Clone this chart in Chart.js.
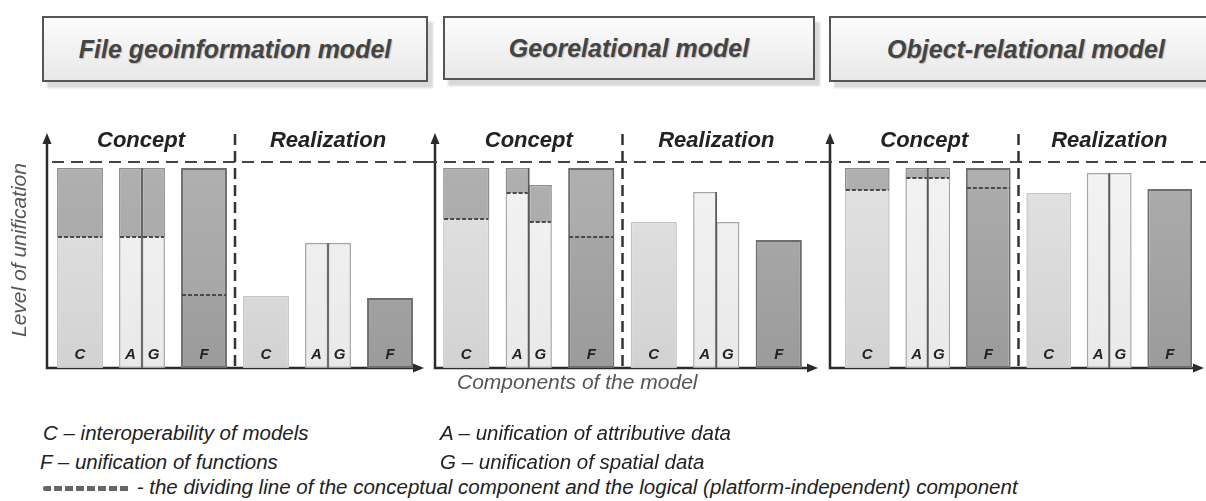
<!DOCTYPE html>
<html>
<head>
<meta charset="utf-8">
<script src="https://cdn.jsdelivr.net/npm/chart.js@4.4.1/dist/chart.umd.min.js"></script>
<style>
  body { margin: 0; background: #fff; }
  #wrap { position: relative; width: 1206px; height: 501px; overflow: hidden; font-family: "Liberation Sans", Arial, sans-serif; }
  .model { position: absolute; top: 16px; height: 62px; border: 2px solid #555; background: linear-gradient(#fcfcfc, #e8e8e8); box-shadow: 5px 6px 2px #d9d9d9; display: flex; align-items: center; justify-content: center; font-weight: bold; font-style: italic; font-size: 25px; color: #444; text-shadow: 1px 1px 1px #bbb; }
  .panel { position: absolute; top: 120px; height: 270px; }
  .note { position: absolute; font-style: italic; font-size: 20.5px; color: #222; white-space: nowrap; line-height: 22px; }
  .axis-title { position: absolute; font-style: italic; font-size: 21px; color: #555; white-space: nowrap; }
  .dash { display: inline-block; width: 88px; height: 5px; vertical-align: middle; background: repeating-linear-gradient(90deg, #666 0 8px, transparent 8px 11px); border-radius: 2px; }
</style>
</head>
<body>
<div id="wrap">
  <div class="model" style="left:42px; width:382px;">File geoinformation model</div>
  <div class="model" style="left:443px; width:368px; height:60px;">Georelational model</div>
  <div class="model" style="left:829px; width:390px;">Object-relational model</div>

  <div class="panel" style="left:0px; width:430px;"><canvas id="fileChart"></canvas></div>
  <div class="panel" style="left:425px; width:400px;"><canvas id="geoChart"></canvas></div>
  <div class="panel" style="left:820px; width:386px;"><canvas id="objChart"></canvas></div>

  <div class="axis-title" style="left:19px; top:250px; transform: translate(-50%, -50%) rotate(-90deg);">Level of unification</div>
  <div class="axis-title" style="left:457px; top:370px;">Components of the model</div>

  <div class="note" style="left:43px; top:422px;">C – interoperability of models</div>
  <div class="note" style="left:440px; top:422px;">A – unification of attributive data</div>
  <div class="note" style="left:40px; top:451px;">F – unification of functions</div>
  <div class="note" style="left:440px; top:451px;">G – unification of spatial data</div>
  <div class="note" style="left:43px; top:476px;"><span class="dash"></span> - the dividing line of the conceptual component and the logical (platform-independent) component</div>
</div>

<script>
// Components in every panel: C, A, G, F
const components = ['C', 'A', 'G', 'F'];
const phases = ['Concept', 'Realization'];
const ceilingLevel = 103;

// File geoinformation model
const fileConceptTop = [100, 100, 100, 100];
const fileConceptSplit = [65.5, 65.5, 65.5, 36.5];
const fileRealization = [36, 62.5, 62.5, 35];

// Georelational model
const geoConceptTop = [100, 100, 91.5, 100];
const geoConceptSplit = [74.5, 87.5, 73, 65.5];
const geoRealization = [73, 88, 73, 64];

// Object-relational model
const objConceptTop = [100, 100, 100, 100];
const objConceptSplit = [89, 95, 95, 90];
const objRealization = [87.5, 97.5, 97.5, 89.5];

// slots on the x axis: concept C, AG, F, then realization C, AG, F
const slots = ['C', 'AG', 'F', 'C', 'AG', 'F'];

// [top colour, bottom colour] of the light gradients
const colLow = { C: ['#e6e6e6', '#d2d2d2'], A: ['#f5f5f5', '#e9e9e9'], G: ['#f5f5f5', '#e9e9e9'], F: ['#b0b0b0', '#9b9b9b'] };
const colLowBorder = { C: '#c4c4c4', A: '#a5a5a5', G: '#a5a5a5', F: '#6e6e6e' };
const colTop = ['#b2b2b2', '#a2a2a2'];

function fill(c, pair) {
  const area = c.chart.chartArea;
  if (!area) return pair[1];
  const g = c.chart.ctx.createLinearGradient(0, area.top, 0, area.bottom);
  g.addColorStop(0, pair[0]);
  g.addColorStop(1, pair[1]);
  return g;
}

function buildDatasets(top, split, real) {
  const sets = [];
  const groups = [
    { stack: 'main', pick: s => (s === 'C' || s === 'F') ? s : null },
    { stack: 'A', pick: s => s === 'AG' ? 'A' : null },
    { stack: 'G', pick: s => s === 'AG' ? 'G' : null }
  ];
  groups.forEach(g => {
    const letters = slots.map(g.pick);
    const low = letters.map((l, i) => {
      if (!l) return null;
      const k = components.indexOf(l);
      return i < 3 ? [0, split[k]] : [0, real[k]];
    });
    const up = letters.map((l, i) => {
      if (!l || i >= 3) return null;
      const k = components.indexOf(l);
      return [split[k], top[k]];
    });
    sets.push({
      part: 'low', letters: letters, stack: g.stack, data: low,
      backgroundColor: c => letters[c.dataIndex] ? fill(c, colLow[letters[c.dataIndex]]) : 'transparent',
      borderColor: letters.map(l => l ? colLowBorder[l] : 'transparent'),
      borderWidth: letters.map(l => l === 'F' ? 2 : 1.5),
      borderSkipped: c => c.dataIndex < 3 ? 'top' : false
    });
    sets.push({
      part: 'up', letters: letters, stack: g.stack, data: up,
      backgroundColor: c => fill(c, colTop),
      borderColor: letters.map(l => l === 'F' ? '#6e6e6e' : '#8c8c8c'),
      borderWidth: letters.map(l => l === 'F' ? 2 : 1.5),
      borderSkipped: 'bottom'
    });
  });
  return sets;
}

function arrowHead(ctx, x, y, dir) {
  ctx.beginPath();
  if (dir === 'up') {
    ctx.moveTo(x, y); ctx.lineTo(x - 4.5, y + 11); ctx.lineTo(x + 4.5, y + 11);
  } else {
    ctx.moveTo(x, y); ctx.lineTo(x - 11, y - 4.5); ctx.lineTo(x - 11, y + 4.5);
  }
  ctx.closePath();
  ctx.fill();
}

const diagramPlugin = {
  id: 'diagram',
  beforeDatasetsDraw(chart, args, opts) {
    const { ctx, chartArea, scales: { x, y } } = chart;
    const y0 = y.getPixelForValue(0);
    const ax = opts.axisX;
    const topY = chartArea.top + 5;
    const divX = (x.getPixelForValue(2) + x.getPixelForValue(3)) / 2;
    ctx.save();
    ctx.strokeStyle = '#2b2b2b';
    ctx.fillStyle = '#2b2b2b';
    ctx.lineWidth = 2.5;
    // axes
    ctx.beginPath();
    ctx.moveTo(ax, topY + 8);
    ctx.lineTo(ax, y0);
    ctx.lineTo(opts.arrowEnd - 8, y0);
    ctx.stroke();
    arrowHead(ctx, ax, topY, 'up');
    arrowHead(ctx, opts.arrowEnd, y0, 'right');
    // ceiling
    ctx.strokeStyle = '#444';
    ctx.lineWidth = 2;
    ctx.setLineDash([12, 7]);
    const cy = y.getPixelForValue(ceilingLevel);
    ctx.beginPath();
    ctx.moveTo(opts.ceilStart, cy);
    ctx.lineTo(chart.width, cy);
    ctx.stroke();
    // concept / realization divider
    ctx.strokeStyle = '#333';
    ctx.lineWidth = 2.5;
    ctx.setLineDash([11, 6]);
    ctx.beginPath();
    ctx.moveTo(divX, topY + 1);
    ctx.lineTo(divX, y0);
    ctx.stroke();
    ctx.restore();
  },
  afterDatasetsDraw(chart, args, opts) {
    const { ctx, chartArea, scales: { x, y } } = chart;
    const y0 = y.getPixelForValue(0);
    const divX = (x.getPixelForValue(2) + x.getPixelForValue(3)) / 2;
    ctx.save();
    chart.data.datasets.forEach((ds, di) => {
      const meta = chart.getDatasetMeta(di);
      meta.data.forEach((el, i) => {
        if (!ds.data[i]) return;
        const half = el.width / 2;
        if (ds.part === 'up') {
          // dividing line of the conceptual and logical component
          ctx.strokeStyle = '#4a4a4a';
          ctx.lineWidth = 2;
          ctx.setLineDash([4, 2]);
          ctx.beginPath();
          ctx.moveTo(el.x - half + 1, el.base);
          ctx.lineTo(el.x + half - 1, el.base);
          ctx.stroke();
        } else {
          if (ds.stack === 'A') {
            ctx.strokeStyle = '#5a5a5a';
            ctx.lineWidth = 1.5;
            ctx.setLineDash([]);
            const upEl = chart.getDatasetMeta(di + 1).data[i];
            const yTop = chart.data.datasets[di + 1].data[i] ? upEl.y : el.y;
            ctx.beginPath();
            ctx.moveTo(el.x + half, y0);
            ctx.lineTo(el.x + half, yTop);
            ctx.stroke();
          }
          ctx.fillStyle = '#222';
          ctx.font = 'italic bold 15px "Liberation Sans", Arial, sans-serif';
          ctx.textAlign = 'center';
          ctx.textBaseline = 'middle';
          ctx.fillText(ds.letters[i], el.x, y0 - 13);
        }
      });
    });
    ctx.fillStyle = '#222';
    ctx.font = 'italic bold 22px "Liberation Sans", Arial, sans-serif';
    ctx.textAlign = 'center';
    ctx.textBaseline = 'middle';
    ctx.fillText(phases[0], (opts.axisX + divX) / 2, chartArea.top + 13);
    ctx.fillText(phases[1], x.getPixelForValue(4), chartArea.top + 13);
    ctx.restore();
  }
};

function initPanel(id, top, split, real, geom) {
  const ctx = document.getElementById(id).getContext('2d');
  return new Chart(ctx, {
    type: 'bar',
    data: { labels: slots, datasets: buildDatasets(top, split, real) },
    options: {
      responsive: true,
      maintainAspectRatio: false,
      animation: false,
      skipNull: true,
      categoryPercentage: 0.74,
      barPercentage: 1,
      layout: { padding: geom.padding },
      plugins: {
        legend: { display: false },
        tooltip: { enabled: false },
        diagram: geom
      },
      scales: {
        x: { display: false, grid: { display: false } },
        y: { display: false, stacked: false, min: 0, max: 120 }
      }
    },
    plugins: [diagramPlugin]
  });
}

document.addEventListener('DOMContentLoaded', function() {
  initPanel('fileChart', fileConceptTop, fileConceptSplit, fileRealization,
    { padding: { left: 49, right: 9, top: 8, bottom: 22 }, axisX: 47, arrowEnd: 424, ceilStart: 52 });
  initPanel('geoChart', geoConceptTop, geoConceptSplit, geoRealization,
    { padding: { left: 10, right: 15, top: 8, bottom: 22 }, axisX: 10, arrowEnd: 393, ceilStart: 0 });
  initPanel('objChart', objConceptTop, objConceptSplit, objRealization,
    { padding: { left: 17, right: 6, top: 8, bottom: 22 }, axisX: 10, arrowEnd: 384, ceilStart: 0 });
});
</script>
</body>
</html>
